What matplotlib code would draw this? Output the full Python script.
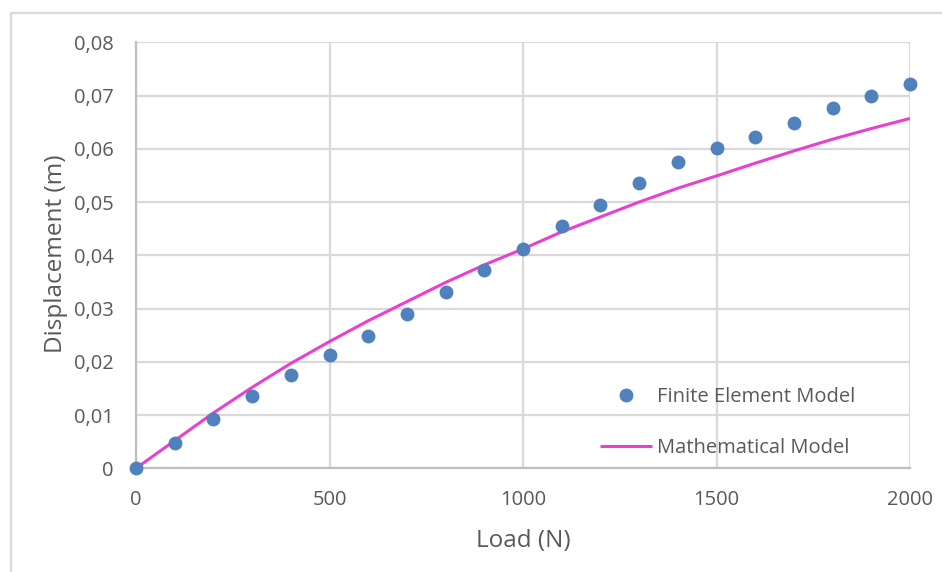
import matplotlib
matplotlib.use("Agg")
import matplotlib.pyplot as plt
from matplotlib.patches import Rectangle
from matplotlib.ticker import FuncFormatter

plt.rcParams['font.family'] = ['Open Sans', 'DejaVu Sans']

# Load steps (N)
load = [0, 100, 200, 300, 400, 500, 600, 700, 800, 900, 1000,
        1100, 1200, 1300, 1400, 1500, 1600, 1700, 1800, 1900, 2000]

# Finite element results (m)
fem_disp = [0.0, 0.0048, 0.0093, 0.0136, 0.0175, 0.0213, 0.0248, 0.0290,
            0.0331, 0.0372, 0.0412, 0.0455, 0.0495, 0.0535, 0.0575, 0.0601,
            0.0622, 0.0648, 0.0676, 0.0700, 0.0721]

# Analytical model (m)
math_disp = [0.0, 0.0052, 0.0104, 0.0152, 0.0197, 0.0238, 0.0277, 0.0313,
             0.0349, 0.0382, 0.0412, 0.0444, 0.0472, 0.0500, 0.0526, 0.0549,
             0.0573, 0.0596, 0.0618, 0.0638, 0.0657]

x_ticks = [0, 500, 1000, 1500, 2000]
y_ticks = [0, 0.01, 0.02, 0.03, 0.04, 0.05, 0.06, 0.07, 0.08]

text_color = '#595959'
grid_color = '#d9d9d9'

W, H = 942, 572
fig = plt.figure(figsize=(W / 100, H / 100), dpi=100)

# outer chart frame
fig.patches.append(Rectangle((11 / W, -0.1), 1.2, 1 - 13 / H + 0.1,
                             transform=fig.transFigure, fill=False,
                             edgecolor=grid_color, linewidth=1.6))

ax = fig.add_axes([136 / W, (H - 468.3) / H, 774 / W, 426 / H])

ax.plot(load, math_disp, color='#e840cf', linewidth=2.2, zorder=3,
        label='Mathematical Model', solid_capstyle='butt')
ax.plot(load, fem_disp, linestyle='none', marker='o', markersize=10,
        color='#4f81bd', markeredgewidth=0, zorder=4,
        label='Finite Element Model', clip_on=False)

ax.set_xlim(0, 2000)
ax.set_ylim(0, 0.08)
ax.set_xticks(x_ticks)
ax.set_yticks(y_ticks)
ax.yaxis.set_major_formatter(FuncFormatter(
    lambda v, p: '0' if abs(v) < 1e-12 else f'{v:.2f}'.replace('.', ',')))

ax.grid(True, color=grid_color, linewidth=1.6)
ax.set_axisbelow(True)
for side in ('top', 'right'):
    ax.spines[side].set_visible(False)
for side in ('left', 'bottom'):
    ax.spines[side].set_color('#bfbfbf')
    ax.spines[side].set_linewidth(1.6)
    ax.spines[side].set_zorder(2)

ax.tick_params(axis='both', length=0, colors=text_color, labelsize=14.5)
ax.tick_params(axis='x', pad=15.5)
ax.tick_params(axis='y', pad=16)

ax.set_xlabel('Load (N)', fontsize=17.5, color=text_color)
ax.set_ylabel('Displacement (m)', fontsize=17.5, color=text_color)
ax.xaxis.set_label_coords(0.5, -0.143)
ax.yaxis.set_label_coords(-0.0875, 0.504)

handles, labels = ax.get_legend_handles_labels()
leg = ax.legend([handles[1], handles[0]], [labels[1], labels[0]],
                loc='upper left', bbox_to_anchor=(0.5995, 0.191),
                frameon=False, fontsize=14.5, labelcolor=text_color,
                handlelength=2.59, handletextpad=0.25, labelspacing=1.54,
                borderpad=0, borderaxespad=0, numpoints=1)

fig.savefig('out.png', dpi=100)
